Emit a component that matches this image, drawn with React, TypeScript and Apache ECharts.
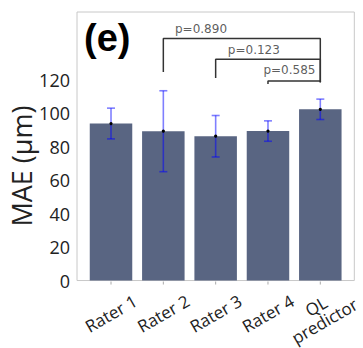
import React, { useEffect, useRef } from "react";
import * as echarts from "echarts";

const categories = ["Rater 1", "Rater 2", "Rater 3", "Rater 4", "QL\npredictor"];
const maeMean = [93.9, 89.3, 86.3, 89.4, 102.4];
const maeErr = [9.2, 24.2, 12.4, 6.1, 6.1];
const yTickLabels = [0, 20, 40, 60, 80, 100, 120];

const pLabels = ["p=0.890", "p=0.123", "p=0.585"];
const bracketFrom = [1, 2, 3];
const bracketTo = [4, 4, 4];
const bracketTop = [144.7, 132.4, 119.4];
const bracketLeftEnd = [124.7, 121.2, 117.6];
const bracketRightEnd = [118.6, 118.6, 118.6];
const pLabelX = [1.72, 2.73, 3.41];
const pLabelY = [150.6, 137.6, 125.9];

export default function App() {
  const ref = useRef<HTMLDivElement>(null);
  useEffect(() => {
    if (!ref.current) return;
    const chart = echarts.init(ref.current, null, { renderer: "svg" });
    const idx = categories.map((_, i) => i);
    const bracketSeries = pLabels.map((_, k) => ({
      type: "line",
      data: [
        [bracketFrom[k], bracketLeftEnd[k]],
        [bracketFrom[k], bracketTop[k]],
        [bracketTo[k], bracketTop[k]],
        [bracketTo[k], bracketRightEnd[k]],
      ],
      symbol: "none",
      lineStyle: { color: "#333", width: 1.5 },
      silent: true,
      z: 5,
    }));
    chart.setOption({
      animation: false,
      grid: {
        left: 77,
        right: 4,
        top: 12,
        bottom: 63,
        show: true,
        borderColor: "#c8c8c8",
        borderWidth: 1,
        containLabel: false,
      },
      xAxis: {
        type: "value",
        min: -0.65,
        max: 4.65,
        axisLine: { show: false },
        splitLine: { show: false },
        axisTick: { show: false },
        axisLabel: {
          customValues: idx,
          formatter: (v: number) => categories[Math.round(v)] ?? "",
          rotate: 30,
          align: "center",
          verticalAlign: "middle",
          margin: 33,
          fontFamily: "Open Sans",
          fontSize: 17,
          lineHeight: 17,
          color: "#222",
        },
      },
      yAxis: {
        type: "value",
        min: 0,
        max: 160.6,
        axisLine: { show: false },
        splitLine: { show: false },
        axisTick: { show: false },
        axisLabel: {
          customValues: yTickLabels,
          margin: 7,
          fontFamily: "Open Sans",
          fontSize: 18,
          color: "#222",
        },
      },
      graphic: [
        {
          type: "text",
          x: 84,
          y: 38,
          style: {
            text: "(e)",
            fontFamily: "Liberation Sans",
            fontWeight: "bold",
            fontSize: 38,
            fill: "#000",
            verticalAlign: "middle",
          },
        },
        {
          type: "text",
          x: 21,
          y: 166,
          rotation: Math.PI / 2,
          style: {
            text: "MAE (μm)",
            fontFamily: "Open Sans",
            fontSize: 27,
            fill: "#222",
            align: "center",
            verticalAlign: "middle",
          },
        },
      ],
      series: [
        {
          type: "bar",
          data: maeMean.map((v, i) => [i, v]),
          barWidth: 42.5,
          itemStyle: { color: "#596582" },
          z: 2,
        },
        {
          type: "custom",
          data: maeMean.map((v, i) => [i, v - maeErr[i], v + maeErr[i], v]),
          encode: { x: 0, y: [1, 2] },
          z: 4,
          silent: true,
          clip: false,
          renderItem: (params: any, api: any) => {
            const x = api.value(0);
            const lo = api.coord([x, api.value(1)]);
            const hi = api.coord([x, api.value(2)]);
            const mid = api.coord([x, api.value(3)]);
            const base = api.coord([x, 0]);
            const style = { stroke: "rgba(0,0,255,0.5)", lineWidth: 1.6 };
            return {
              type: "group",
              children: [
                { type: "line", shape: { x1: lo[0], y1: lo[1], x2: hi[0], y2: hi[1] }, style },
                { type: "line", shape: { x1: hi[0] - 4, y1: hi[1], x2: hi[0] + 4, y2: hi[1] }, style },
                { type: "line", shape: { x1: lo[0] - 4, y1: lo[1], x2: lo[0] + 4, y2: lo[1] }, style },
                { type: "circle", shape: { cx: mid[0], cy: mid[1], r: 1.6 }, style: { fill: "#000" } },
                {
                  type: "line",
                  shape: { x1: base[0], y1: base[1] + 1, x2: base[0], y2: base[1] + 4 },
                  style: { stroke: "#aaa", lineWidth: 1 },
                },
              ],
            };
          },
        },
        ...bracketSeries,
        {
          type: "scatter",
          data: pLabels.map((t, k) => [pLabelX[k], pLabelY[k], t]),
          symbolSize: 1,
          itemStyle: { color: "rgba(0,0,0,0)" },
          silent: true,
          label: {
            show: true,
            position: "inside",
            formatter: (p: any) => p.value[2],
            fontFamily: "DejaVu Sans",
            fontSize: 12,
            color: "#333",
          },
          z: 6,
        },
      ],
    });
    return () => chart.dispose();
  }, []);
  return (
    <div
      ref={ref}
      style={{ position: "fixed", left: 0, top: 0, width: 363, height: 348, background: "#fff" }}
    />
  );
}
